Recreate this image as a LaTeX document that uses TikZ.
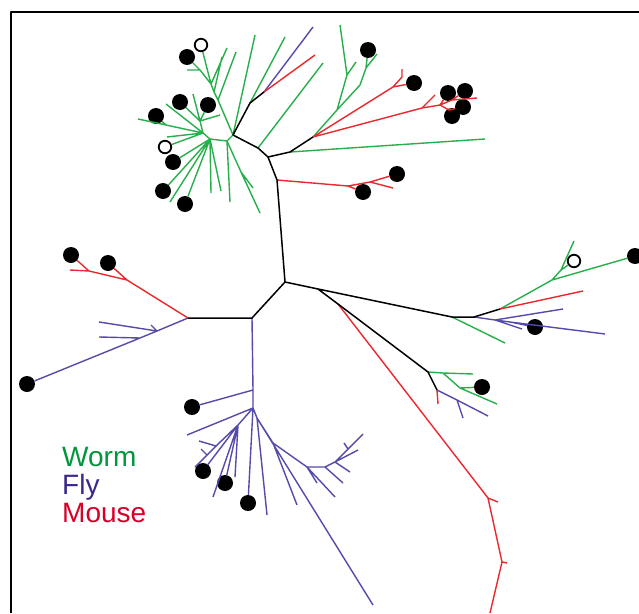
\documentclass[tikz,border=0pt]{standalone}
\usepackage{fontspec}
\setmainfont{Liberation Sans}
\definecolor{tg}{RGB}{40,175,75}
\definecolor{tp}{RGB}{85,75,170}
\definecolor{tr}{RGB}{235,40,45}
\definecolor{lg}{RGB}{0,150,60}
\definecolor{lp}{RGB}{60,40,140}
\definecolor{lr}{RGB}{215,0,40}
\tikzset{
 kl/.style={draw=black,line width=1.5pt},
 gl/.style={draw=tg,line width=1.4pt},
 pl/.style={draw=tp,line width=1.4pt},
 rl/.style={draw=tr,line width=1.4pt},
 dot/.style={circle,fill=black,inner sep=0pt,minimum size=16pt},
 odot/.style={circle,draw=black,line width=1.8pt,fill=white,inner sep=0pt,minimum size=12.5pt},
 leg/.style={anchor=base west,inner sep=0pt,font=\fontsize{28}{30}\selectfont}
}
\begin{document}
\begin{tikzpicture}[x=1pt,y=-1pt,line join=round]
\useasboundingbox (0,0) rectangle (639,613);
\fill[white] (0,0) rectangle (639,613);
\draw[line width=1.6pt] (10.7,613) -- (10.7,11.7) -- (639,11.7);
% dots
\node[dot] (d1) at (368,50) {};
\node[dot] (d2) at (414,83) {};
\node[dot] (d3) at (448,93) {};
\node[dot] (d4) at (465,91) {};
\node[dot] (d5) at (463,107) {};
\node[dot] (d6) at (452,116) {};
\node[dot] (d7) at (397,174) {};
\node[dot] (d8) at (363,192) {};
\node[dot] (d9) at (187,57) {};
\node[odot] (o1) at (201,45) {};
\node[dot] (d10) at (180,102) {};
\node[dot] (d11) at (208,105) {};
\node[dot] (d12) at (156,116) {};
\node[odot] (o2) at (165,147) {};
\node[dot] (d13) at (173,162) {};
\node[dot] (d14) at (163,191) {};
\node[dot] (d15) at (185,204) {};
\node[dot] (d16) at (71,255) {};
\node[dot] (d17) at (108,263) {};
\node[dot] (d18) at (27,384) {};
\node[dot] (d19) at (192,407) {};
\node[dot] (d20) at (203,471) {};
\node[dot] (d21) at (225,483) {};
\node[dot] (d22) at (248,503) {};
\node[dot] (d23) at (635,256) {};
\node[odot] (o3) at (574,261) {};
\node[dot] (d24) at (535,327) {};
\node[dot] (d25) at (482,387) {};
% backbone and inner points
\path (285,282) coordinate (A) (277,180) coordinate (T1) (268,157) coordinate (B)
 (258,148) coordinate (C1) (233,135) coordinate (C) (250,103) coordinate (D1) (264,92) coordinate (D)
 (290,152) coordinate (E1) (313,137) coordinate (E) (252,318) coordinate (F) (188,318) coordinate (H)
 (318,289) coordinate (I) (338,304) coordinate (K) (428,372) coordinate (J) (437,390) coordinate (J1)
 (452,317) coordinate (M) (474,317) coordinate (M1) (500,309) coordinate (M2)
 (337,110) coordinate (G1) (360,85) coordinate (G2) (366,68) coordinate (G3) (347,75) coordinate (G4)
 (393,87) coordinate (R2) (402,77) coordinate (R2b) (422,108) coordinate (R1) (440,105) coordinate (R1b)
 (452,100) coordinate (R1c) (449,110) coordinate (R1d) (348,186) coordinate (R0) (370,182) coordinate (R0a)
 (211,84) coordinate (S1) (200,70) coordinate (S1a) (218,100) coordinate (S1b) (214,92) coordinate (S1c)
 (227,141) coordinate (S2a) (210,139) coordinate (S5) (203,133) coordinate (S2) (200,121) coordinate (S3)
 (166,125) coordinate (S4) (241,172) coordinate (S7)
 (127,280) coordinate (L1) (89,271) coordinate (L2) (157,331) coordinate (K1) (140,338) coordinate (K2)
 (253,390) coordinate (U1) (253,408) coordinate (U2) (238,425) coordinate (U3) (216,446) coordinate (U4)
 (207,455) coordinate (U5) (257,418) coordinate (U6)
 (273,443) coordinate (V1) (307,467) coordinate (V2) (325,467) coordinate (V3) (335,462) coordinate (V4)
 (348,449) coordinate (V5)
 (495,320) coordinate (P1) (510,322) coordinate (P2) (552,280) coordinate (N) (561,270) coordinate (N1)
 (443,373) coordinate (J2) (460,388) coordinate (J3) (457,400) coordinate (W1)
 (488,498) coordinate (Q1) (502,562) coordinate (Q2);
% leaves
\path (323,63) coordinate (l1) (255,35) coordinate (l2) (285,37) coordinate (l3) (313,27) coordinate (l4)
 (315,55) coordinate (l5) (485,139) coordinate (l6) (377,54) coordinate (l7) (340,25) coordinate (l9)
 (356,62) coordinate (l10) (402,69) coordinate (l12) (435,95) coordinate (l13) (477,98) coordinate (l14)
 (393,188) coordinate (l20) (187,70) coordinate (l23) (227,48) coordinate (l25) (236,52) coordinate (l26)
 (222,57) coordinate (l27) (193,94) coordinate (l29) (220,115) coordinate (l31) (138,119) coordinate (l32)
 (166,104) coordinate (l34) (167,137) coordinate (l36) (170,202) coordinate (l39) (211,193) coordinate (l41)
 (230,202) coordinate (l42) (260,213) coordinate (l43) (253,188) coordinate (l44) (221,191) coordinate (l45)
 (70,270) coordinate (l46) (99,322) coordinate (l50) (99,337) coordinate (l51) (151,325) coordinate (l52)
 (187,435) coordinate (l54) (195,467) coordinate (l55) (199,441) coordinate (l56) (201,449) coordinate (l57)
 (213,497) coordinate (l58) (235,477) coordinate (l59) (267,515) coordinate (l60) (373,605) coordinate (l61)
 (297,505) coordinate (l62) (317,483) coordinate (l63) (335,497) coordinate (l64) (343,483) coordinate (l65)
 (363,434) coordinate (l66) (358,450) coordinate (l67) (350,472) coordinate (l68) (344,443) coordinate (l69)
 (505,343) coordinate (l70) (605,334) coordinate (l71) (522,329) coordinate (l72) (563,309) coordinate (l73)
 (583,291) coordinate (l74) (574,241) coordinate (l75) (473,374) coordinate (l76) (497,404) coordinate (l77)
 (438,404) coordinate (l78) (488,416) coordinate (l79) (463,418) coordinate (l80) (498,502) coordinate (l81)
 (507,563) coordinate (l82) (490,613) coordinate (l83);
% green
\draw[gl] (C1)--(l1) (C)--(l2) (D1)--(l3) (E1)--(l6)
 (E)--(G1)--(G2)--(G3)--(l7) (G3)--(d1) (G1)--(G4)--(l9) (G4)--(l10)
 (C)--(S1b)--(S1c)--(S1)--(S1a)--(d9) (S1a)--(l23) (S1)--(o1) (S1)--(l25) (S1b)--(l26) (S1c)--(l27)
 (C)--(S2a)--(S5)--(S2)--(S3) (S3)--(d10) (S3)--(l29) (S3)--(d11) (S3)--(l31)
 (S2)--(S4)--(l32) (S4)--(d12) (S2)--(l34) (S2)--(o2) (S2)--(l36)
 (S5)--(d13) (S5)--(d14) (S5)--(l39) (S5)--(d15) (S5)--(l41) (S5)--(l45)
 (S2a)--(l42) (S2a)--(S7)--(l43) (S7)--(l44)
 (M)--(l70) (M2)--(N)--(d23) (N)--(N1)--(l75) (N1)--(o3)
 (J)--(J2)--(l76) (J2)--(J3)--(l77) (J3)--(d25);
% purple
\draw[pl] (D)--(l4) (H)--(K1)--(K2)--(d18) (K1)--(l50) (K2)--(l51) (K1)--(l52)
 (F)--(U1)--(U2) (U1)--(d19) (U2)--(l54) (U2)--(U3)--(U4)--(U5)--(l55) (U4)--(l56) (U5)--(l57)
 (U3)--(d20) (U3)--(l58) (U3)--(d21) (U3)--(l59) (U2)--(d22)
 (U2)--(U6)--(l60) (U6)--(l61) (U6)--(V1)--(l62) (V1)--(V2)--(l63) (V2)--(l64) (V2)--(V3)--(l65)
 (V3)--(V4)--(V5)--(l66) (V4)--(l67) (V4)--(l68) (V5)--(l69)
 (M1)--(P1)--(P2)--(l71) (P1)--(l72) (P1)--(l73) (P2)--(d24)
 (J1)--(W1)--(l79) (W1)--(l80);
% red
\draw[rl] (D)--(l5) (T1)--(R0)--(R0a)--(d7) (R0a)--(l20) (R0)--(d8)
 (E)--(R2)--(d2) (R2)--(R2b)--(l12)
 (E)--(R1)--(l13) (R1)--(R1b)--(R1c)--(l14) (R1c)--(d4) (R1b)--(R1d)--(d5) (R1d)--(d6) (R1b)--(d3)
 (H)--(L1)--(L2)--(l46) (L2)--(d16) (L1)--(d17)
 (M2)--(l74) (J1)--(l78)
 (K)--(Q1)--(Q2)--(l83) (Q1)--(l81) (Q2)--(l82);
% black backbone
\draw[kl] (A)--(T1)--(B)--(C1)--(C)--(D1)--(D) (B)--(E1)--(E) (A)--(F)--(H)
 (A)--(I)--(M)--(M1)--(M2) (I)--(K)--(J)--(J1);
% legend
\node[leg,text=lg] (w) at (62,466) {Worm};
\node[leg,text=lp] (f) at (62,494) {Fly};
\node[leg,text=lr] (m) at (62,522) {Mouse};
\end{tikzpicture}
\end{document}
